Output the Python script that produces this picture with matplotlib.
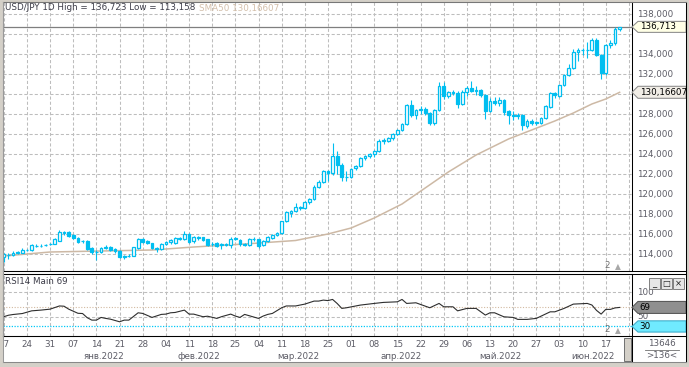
import numpy as np
import pandas as pd
import matplotlib
matplotlib.use('Agg')
import matplotlib.pyplot as plt
from matplotlib.patches import Polygon, Rectangle
from matplotlib.lines import Line2D
from matplotlib.transforms import Bbox, TransformedBbox, blended_transform_factory

W, H = 689, 367

# one bar per weekday; axis runs two days past the last bar (up to the Friday label)
days = pd.bdate_range('2021-12-17', '2022-06-24')

opens = [113.75, 113.95, 113.90, 114.10, 114.15, 114.45, 114.40, 114.85, 114.80, 114.90, 115.00,
         115.05, 115.35, 116.10, 116.15, 115.90, 115.60, 115.30, 115.35, 114.60, 114.20, 114.25,
         114.60, 114.70, 114.50, 114.30, 113.80, 113.80, 113.85, 114.60, 115.45, 115.30,
         115.10, 114.60, 114.50, 115.00, 115.20, 115.10, 115.55, 115.50, 116.05, 115.30, 115.70,
         115.65, 115.50, 115.05, 115.10, 114.95, 115.00, 114.90, 115.55, 115.40,
         115.00, 114.90, 115.50, 115.50, 114.90, 115.30, 115.65, 115.90, 116.15, 117.30, 118.15,
         118.30, 118.70, 118.60, 119.20, 119.50, 120.75, 121.20, 122.35, 122.10, 123.80, 122.90, 121.75,
         121.70, 122.60, 122.80, 123.60, 123.80, 124.00, 124.30, 125.30, 125.35, 125.60, 126.00,
         126.40, 127.00, 128.90, 127.90, 128.45, 128.50, 128.10, 127.10, 128.40, 130.80,
         129.80, 130.15, 130.10, 129.00, 130.20, 130.60, 130.30, 130.40, 129.90, 128.30, 129.30,
         129.10, 129.40, 128.30, 127.90, 127.85, 127.90, 126.85, 127.25, 127.15, 127.10, 127.60,
         128.75, 130.10, 129.85, 130.90, 131.90, 132.60, 134.25, 134.40, 134.40, 134.40, 135.40,
         133.90, 132.10, 134.95, 135.05, 136.50]
highs = [114.10, 114.15, 114.30, 114.35, 114.60, 114.55, 115.00, 115.00, 115.00, 115.05, 115.15,
         115.60, 116.40, 116.35, 116.35, 116.00, 115.70, 115.45, 115.45, 114.70, 114.40, 114.70,
         114.90, 114.80, 114.60, 114.40, 113.95, 114.00, 114.75, 115.60, 115.65, 115.45,
         115.15, 114.70, 115.10, 115.30, 115.50, 115.70, 115.70, 116.35, 116.15, 115.80, 115.80,
         115.70, 115.55, 115.20, 115.20, 115.10, 115.10, 115.75, 115.75, 115.50,
         115.10, 115.60, 115.70, 115.55, 115.45, 115.80, 116.00, 116.20, 117.35, 118.30, 118.45,
         119.10, 118.85, 119.30, 119.60, 120.90, 121.40, 122.40, 122.45, 125.10, 124.30, 123.10, 122.30,
         122.65, 122.95, 123.70, 123.95, 124.10, 124.40, 125.50, 125.60, 125.75, 126.10, 126.50,
         127.10, 129.00, 129.40, 128.50, 128.80, 128.70, 128.20, 128.50, 131.25, 131.20,
         130.30, 130.40, 130.30, 130.40, 130.80, 131.35, 130.80, 130.50, 130.00, 129.60, 129.70,
         129.70, 129.50, 128.40, 128.30, 128.10, 128.00, 127.50, 127.50, 127.30, 127.70, 128.90,
         130.20, 130.20, 131.00, 132.00, 133.00, 134.50, 134.60, 134.60, 135.20, 135.60, 135.60,
         134.00, 135.00, 135.40, 136.72, 136.723]
lows = [113.16, 113.55, 113.80, 114.00, 114.10, 114.30, 114.35, 114.70, 114.70, 114.80, 114.90,
        115.00, 115.30, 115.90, 115.75, 115.55, 115.10, 115.15, 114.45, 114.05, 113.45, 114.10,
        114.50, 114.30, 114.10, 113.60, 113.50, 113.70, 113.80, 114.50, 115.10, 115.00,
        114.50, 114.20, 114.40, 114.90, 115.00, 115.00, 115.40, 115.40, 115.10, 115.10, 115.45,
        115.35, 114.80, 114.80, 114.70, 114.55, 114.80, 114.60, 115.40, 114.85,
        114.80, 114.80, 115.30, 114.65, 114.80, 115.20, 115.55, 115.80, 116.05, 117.20, 117.70,
        118.20, 118.40, 118.50, 119.00, 119.40, 120.60, 121.10, 121.30, 121.90, 122.00, 121.30, 121.30,
        121.60, 122.40, 122.70, 123.40, 123.60, 123.75, 124.20, 125.00, 125.20, 125.40, 125.90,
        126.30, 126.90, 127.70, 127.50, 128.00, 127.90, 126.90, 126.95, 128.30, 129.50,
        129.60, 129.90, 128.60, 128.90, 129.80, 130.20, 129.90, 129.70, 127.50, 128.20, 128.90,
        128.80, 127.90, 127.00, 127.40, 127.50, 126.40, 126.60, 126.90, 126.90, 127.00, 127.50,
        128.60, 129.60, 129.70, 130.80, 131.80, 132.50, 133.30, 133.90, 133.60, 134.30, 133.80,
        131.50, 131.90, 134.60, 134.95, 136.35]
closes = [114.00, 113.90, 114.10, 114.15, 114.45, 114.40, 114.90, 114.80, 114.85, 114.95, 115.05,
          115.50, 116.15, 116.15, 115.85, 115.65, 115.25, 115.35, 114.55, 114.20, 114.25, 114.60,
          114.65, 114.45, 114.30, 113.70, 113.75, 113.85, 114.65, 115.45, 115.25, 115.10,
          114.60, 114.55, 115.00, 115.20, 115.40, 115.60, 115.60, 116.05, 115.25, 115.70, 115.60,
          115.45, 114.90, 115.00, 114.80, 114.95, 114.90, 115.55, 115.60, 115.00,
          114.95, 115.50, 115.50, 114.80, 115.30, 115.65, 115.90, 116.10, 117.30, 118.15, 118.30,
          118.70, 118.60, 119.20, 119.50, 120.75, 121.20, 122.30, 122.10, 123.80, 122.90, 121.75, 121.70,
          122.50, 122.80, 123.60, 123.80, 123.95, 124.30, 125.30, 125.40, 125.60, 125.95, 126.40,
          127.00, 128.90, 127.90, 128.40, 128.50, 128.10, 127.10, 128.40, 130.80, 129.80,
          130.20, 130.10, 129.00, 130.20, 130.60, 130.30, 130.40, 129.90, 128.30, 129.30, 129.10,
          129.40, 128.20, 127.90, 127.85, 127.90, 126.90, 127.30, 127.10, 127.10, 127.60, 128.75,
          130.10, 129.90, 130.90, 131.90, 132.60, 134.20, 134.40, 134.40, 134.45, 135.40, 133.90,
          132.10, 134.90, 135.05, 136.50, 136.713]

sma_dates = ['2021-12-17', '2021-12-31', '2022-01-17', '2022-02-01', '2022-02-14', '2022-03-01',
             '2022-03-16', '2022-03-25', '2022-04-01', '2022-04-08', '2022-04-18', '2022-04-25',
             '2022-05-02', '2022-05-10', '2022-05-19', '2022-05-26', '2022-06-02', '2022-06-08',
             '2022-06-14', '2022-06-17', '2022-06-22']
sma_vals = [113.8, 114.2, 114.3, 114.4, 114.7, 115.0, 115.35, 116.0, 116.6, 117.6, 119.0, 120.6,
            122.2, 123.9, 125.5, 126.4, 127.3, 128.1, 129.0, 129.5, 130.17]

rsi_dates = ['2021-12-17', '2021-12-20', '2021-12-21', '2021-12-23', '2021-12-27', '2021-12-29',
             '2021-12-31', '2022-01-04', '2022-01-05', '2022-01-06', '2022-01-10', '2022-01-11',
             '2022-01-12', '2022-01-13', '2022-01-14', '2022-01-17', '2022-01-18', '2022-01-19',
             '2022-01-21', '2022-01-24', '2022-01-25', '2022-01-27', '2022-01-28', '2022-02-01',
             '2022-02-03', '2022-02-04', '2022-02-07', '2022-02-08', '2022-02-10', '2022-02-11',
             '2022-02-14', '2022-02-16', '2022-02-17', '2022-02-21', '2022-02-22', '2022-02-24',
             '2022-02-25', '2022-02-28', '2022-03-01', '2022-03-02', '2022-03-04', '2022-03-07',
             '2022-03-08', '2022-03-09', '2022-03-11', '2022-03-14', '2022-03-16', '2022-03-18',
             '2022-03-22', '2022-03-23', '2022-03-24', '2022-03-25', '2022-03-28', '2022-03-29',
             '2022-03-30', '2022-03-31', '2022-04-05', '2022-04-08', '2022-04-12', '2022-04-15',
             '2022-04-18', '2022-04-19', '2022-04-21', '2022-04-26', '2022-04-28', '2022-04-29',
             '2022-05-03', '2022-05-04', '2022-05-06', '2022-05-10', '2022-05-12', '2022-05-13',
             '2022-05-16', '2022-05-18', '2022-05-20', '2022-05-23', '2022-05-25', '2022-05-27',
             '2022-06-01', '2022-06-02', '2022-06-06', '2022-06-08', '2022-06-13', '2022-06-14',
             '2022-06-15', '2022-06-16', '2022-06-17', '2022-06-20', '2022-06-21', '2022-06-22']
rsi_vals = [50, 53, 54.5, 56.5, 62, 63.5, 65.5, 72, 71.5, 65.5, 57, 56.5, 48, 43, 43, 48.5, 46.5, 45,
            39.6, 43, 43, 58, 56.7, 48.5, 54.7, 55.3, 58, 58.7, 63.5, 55.3, 55.3, 50, 51, 46.5, 50,
            55.3, 51.3, 48.5, 54.7, 52, 46.5, 51.3, 54.7, 56.7, 68.3, 72, 72, 75.8, 82, 82, 84, 83,
            85.4, 77, 67, 68.3, 73.8, 77.2, 79.3, 80.5, 85.4, 77.2, 78.5, 68.3, 77.2, 70.3, 70.3, 62,
            67, 67, 53.3, 58, 58, 49.8, 48.5, 44.5, 44.5, 46.5, 60, 60, 67, 75.8, 77.2, 74, 63, 55.3,
            65, 65, 68, 69]

price_ticks = [114, 116, 118, 120, 122, 124, 126, 128, 130, 132, 134, 136, 138]
hidden_ticks = [130, 136]   # covered by the price tags in the terminal
months = ['янв', 'фев', 'мар', 'апр', 'май', 'июн']

CYAN = '#00BEF0'
TAN = '#CDB9A5'
GRID = '#BDBDBD'
LABEL = '#5C5C66'

plt.rcParams['font.family'] = 'DejaVu Sans'
plt.rcParams['font.size'] = 6.3

fig = plt.figure(figsize=(W / 100, H / 100), dpi=100, facecolor='#D4D0C8')


def px_axes(x0, y0, x1, y1):
    return fig.add_axes([x0 / W, 1 - y1 / H, (x1 - x0) / W, (y1 - y0) / H])


def fline(xs, ys, color='black', lw=0.75):
    fig.add_artist(Line2D([x / W for x in xs], [1 - y / H for y in ys], transform=fig.transFigure,
                          color=color, lw=lw, zorder=5))


fig.add_artist(Rectangle((3 / W, 1 - 362 / H), 683 / W, 360 / H, transform=fig.transFigure,
                         facecolor='white', edgecolor='none', zorder=-1))

x_left = -0.85 / 4.63
x_right = x_left + 629 / 4.63
fridays = np.where(days.dayofweek == 4)[0]
dash = (0, (3, 2))

# ---- main price panel
ax = px_axes(3, 2, 632, 271)
ax.set_facecolor('white')
ax.set_xlim(x_left, x_right)
ax.set_ylim(112.3, 139.2)
ax.set_xticks(fridays)
ax.set_yticks(price_ticks)
ax.grid(True, color=GRID, linestyle=dash, lw=0.75)
ax.tick_params(length=0, labelleft=False, labelbottom=False)
for s in ax.spines.values():
    s.set_color('black')
    s.set_linewidth(0.75)
ax.spines['top'].set_color('#777777')
ax.spines['left'].set_color('#999999')

o, h, l, c = map(np.array, (opens, highs, lows, closes))
xb = np.arange(len(o))
up = c >= o
ax.vlines(xb, l, h, color=CYAN, lw=0.8, zorder=3)
bottom = np.minimum(o, c)
height = np.maximum(np.abs(c - o), 0.04)
ax.bar(xb[up], height[up], bottom=bottom[up], width=0.6, facecolor='white', edgecolor=CYAN,
       linewidth=0.9, zorder=4)
ax.bar(xb[~up], height[~up], bottom=bottom[~up], width=0.6, facecolor=CYAN, edgecolor=CYAN,
       linewidth=0.9, zorder=4)

sma_pos = days.get_indexer(pd.to_datetime(sma_dates))
ax.plot(sma_pos, sma_vals, color=TAN, lw=1.1, zorder=2)
ax.axhline(closes[-1], color='#7F7F7F', lw=0.9, zorder=2)

ytr = ax.get_yaxis_transform()
for p in price_ticks:
    if p in hidden_ticks:
        continue
    ax.text(1.0085, p, f'{p:.3f}'.replace('.', ','), transform=ytr, va='center', ha='left',
            color=LABEL)


def tag(axis, value, half, text, face, edge, tcolor='black'):
    tr = axis.get_yaxis_transform()
    xs = [1.0, 1.0095, 1.086, 1.086, 1.0095]
    ys = [value, value + half, value + half, value - half, value - half]
    axis.add_patch(Polygon(list(zip(xs, ys)), closed=True, transform=tr, facecolor=face,
                           edgecolor=edge, lw=0.75, clip_on=False, zorder=6))
    axis.text(1.012, value, text, transform=tr, va='center', ha='left', color=tcolor, zorder=7)


tag(ax, closes[-1], 0.55, f'{closes[-1]:.3f}'.replace('.', ','), '#FFFFE6', '#8A8A8A')
tag(ax, sma_vals[-1], 0.6, '130,16607', '#F1EDE6', '#8A8A8A')

head = fig.text(5 / W, 1 - 8 / H, 'USD/JPY 1D High = 136,723 Low = 113,158', va='center',
                ha='left', color='#3C3C48')
fig.add_artist(plt.Annotation('SMA50 130,16607', xy=(1, 0.5), xycoords=head, xytext=(2.5, 0),
                              textcoords='offset points', va='center', ha='left', color='#D3BFAA'))

# ---- RSI panel
rsi = px_axes(3, 274, 632, 336)
rsi.set_facecolor('white')
rsi.set_xlim(x_left, x_right)
rsi.set_ylim(10.45, 137.5)
rsi.set_xticks(fridays)
rsi.set_yticks([50, 100])
rsi.grid(True, color=GRID, linestyle=dash, lw=0.75)
rsi.tick_params(length=0, labelleft=False, labelbottom=False)
for s in rsi.spines.values():
    s.set_color('black')
    s.set_linewidth(0.75)
rsi.axhline(70, color='#D2B9A0', lw=0.8, linestyle=(0, (1, 1.5)))
rsi.axhline(30, color='#00C8F8', lw=0.9, linestyle=(0, (1, 1.2)))
rsi_pos = days.get_indexer(pd.to_datetime(rsi_dates))
rsi.plot(rsi_pos, rsi_vals, color='#2E2E2E', lw=0.8, zorder=3)
fig.text(5 / W, 1 - 282 / H, 'RSI14 Main 69', va='center', ha='left', color='#3C3C48')

rtr = rsi.get_yaxis_transform()
rsi.text(1.0085, 100, '100', transform=rtr, va='center', ha='left', color=LABEL)
rsi.text(1.0085, 50, '50', transform=rtr, va='center', ha='left', color=LABEL)
tag(rsi, 69, 12.3, '69', '#8F8F8F', '#555555')
tag(rsi, 30, 11.5, '30', '#70EAFF', '#3AAAC8')

# ---- date axis (clipped to the chart width, like the terminal does)
clip = TransformedBbox(Bbox.from_extents(3 / W, 0, 632 / W, 1), fig.transFigure)
dtr = blended_transform_factory(rsi.transData, fig.transFigure)
for i in fridays:
    fig.text(i, 1 - 344.5 / H, days[i].strftime('%d'), transform=dtr, ha='center', va='center',
             color=LABEL, clip_on=True, clip_box=clip)
for k, name in enumerate(months):
    idx = np.where(days.month == k + 1)[0]
    fig.text(idx.mean() + 0.7, 1 - 356.5 / H, name + '.2022', transform=dtr, ha='center',
             va='center', color=LABEL, clip_on=True, clip_box=clip)

# ---- frame lines
fline([3, 686], [271, 271])
fline([3, 686], [274, 274])
fline([3, 686], [336, 336])
fline([686, 686], [2, 362])
fline([632, 632], [336, 362])
fline([3, 686], [2, 2], color='#777777')
fline([3, 686], [362, 362], color='#888888')
fline([3, 3], [2, 362], color='#999999')

# scroll thumb
fig.add_artist(Rectangle((624 / W, 1 - 361 / H), 7 / W, 23 / H, transform=fig.transFigure,
                         facecolor='#D4D0C8', edgecolor='#707070', lw=0.7, zorder=6))

# window buttons on the sub-window
for bx, sym in zip([649, 661, 673], ['_', '□', '×']):
    fig.add_artist(Rectangle((bx / W, 1 - 289 / H), 11 / W, 11 / H, transform=fig.transFigure,
                             facecolor='#E6E6E6', edgecolor='#6E6E6E', lw=0.6, zorder=6))
    fig.text((bx + 5.5) / W, 1 - 283.5 / H, sym, ha='center', va='center', fontsize=6,
             color='#202020', zorder=7)

# "2 ▲" scale markers
for yy in (266, 330):
    fig.text(607 / W, 1 - yy / H, '2', ha='center', va='center', color='#707070', zorder=7)
    fig.text(617.5 / W, 1 - (yy + 1) / H, '▲', ha='center', va='center', fontsize=5.5,
             color='#A8A8A8', zorder=7)

# bar counter box
fig.text(662 / W, 1 - 343.5 / H, '13646', ha='center', va='center', color=LABEL)
fline([645, 679], [349.5, 349.5], color='#707070', lw=0.6)
fig.text(662 / W, 1 - 356 / H, '>136<', ha='center', va='center', color=LABEL)

fig.savefig('out.png', dpi=100, facecolor=fig.get_facecolor())
